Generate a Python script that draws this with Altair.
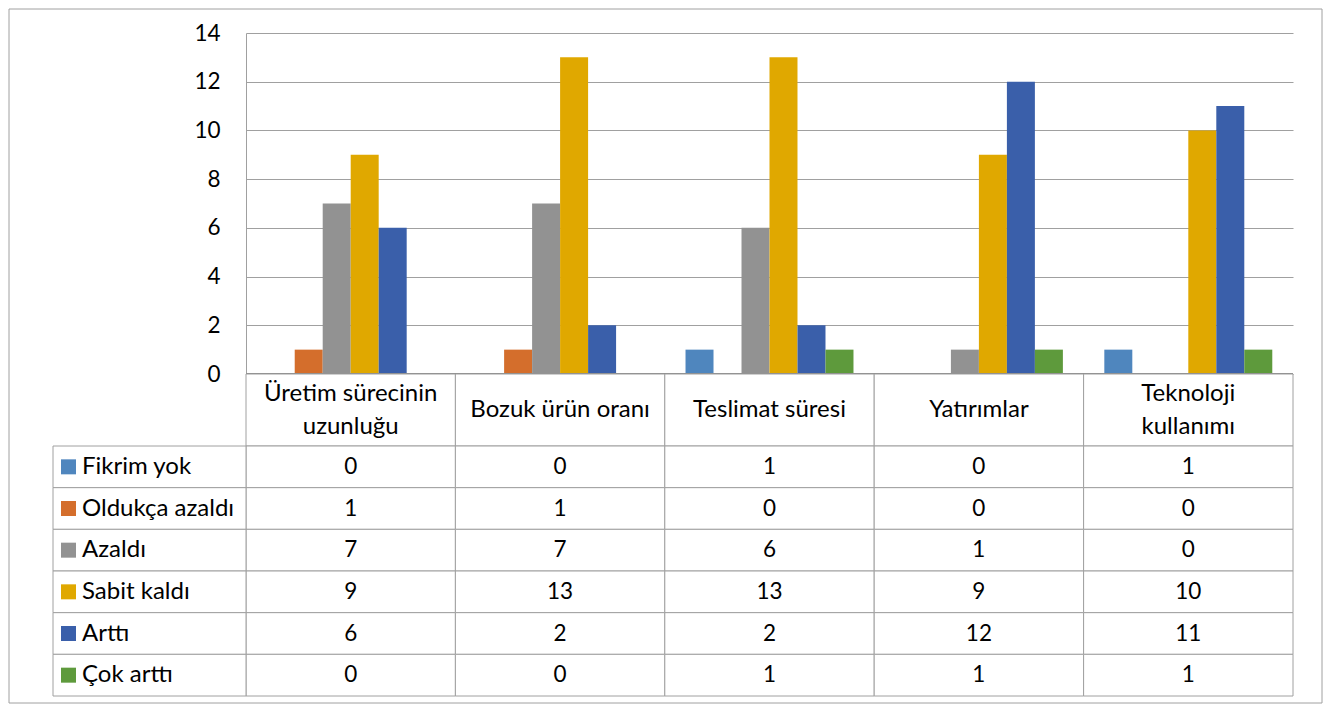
import altair as alt
import pandas as pd

# ---- data ----
categories = ["Üretim sürecinin\nuzunluğu", "Bozuk ürün oranı", "Teslimat süresi", "Yatırımlar", "Teknoloji\nkullanımı"]
series = ["Fikrim yok", "Oldukça azaldı", "Azaldı", "Sabit kaldı", "Arttı", "Çok arttı"]
colors = ["#4F86BE", "#D46E2C", "#929292", "#E0A800", "#3A5FAA", "#5E9A3C"]
fikrim_yok = [0, 0, 1, 0, 1]
oldukca_azaldi = [1, 1, 0, 0, 0]
azaldi = [7, 7, 6, 1, 0]
sabit_kaldi = [9, 13, 13, 9, 10]
artti = [6, 2, 2, 12, 11]
cok_artti = [0, 0, 1, 1, 1]
y_ticks = [0, 2, 4, 6, 8, 10, 12, 14]

values_by_series = [fikrim_yok, oldukca_azaldi, azaldi, sabit_kaldi, artti, cok_artti]
rows = []
for s, vals in zip(series, values_by_series):
    for c, v in zip(categories, vals):
        rows.append({"category": c, "series": s, "value": v})
df = pd.DataFrame(rows)
hdr_df = pd.DataFrame({"category": categories})
lab_df = pd.DataFrame({"series": series})
frame_df = pd.DataFrame({"a": [0]})

# ---- layout ----
FONT = "Lato"
FS_TXT = 24
FS_NUM = 22.5
W = 1047
BAR_H = 341
HDR_H = 72
BODY_H = 250
LABEL_W = 193
GRID = "#a0a0a0"
LH = 33

xscale = alt.Scale(domain=categories, paddingInner=0, paddingOuter=0)
xenc = alt.X("category:N", sort=categories, scale=xscale, axis=None)

bars = alt.Chart(df).mark_bar().encode(
    x=xenc,
    xOffset=alt.XOffset("series:N", sort=series,
                        scale=alt.Scale(domain=series, paddingInner=0, paddingOuter=0.74)),
    y=alt.Y("value:Q",
            scale=alt.Scale(domain=[0, 14], range=[BAR_H, 0], nice=False),
            axis=alt.Axis(values=y_ticks, title=None, ticks=False, labelPadding=26,
                          labelFont=FONT, labelFontSize=FS_NUM, labelColor="black",
                          domainColor=GRID, gridColor=GRID, grid=True)),
    color=alt.Color("series:N", scale=alt.Scale(domain=series, range=colors), legend=None),
)
baseline = alt.Chart(frame_df).mark_rule(color="#868686", strokeWidth=2).encode(y=alt.datum(0))
bar_layer = alt.layer(bars, baseline)

hdr_rect = alt.Chart(hdr_df).mark_rect(fill="white", stroke=GRID, strokeWidth=1).encode(
    x=xenc, y=alt.value(BAR_H), y2=alt.value(BAR_H + HDR_H))
hdr_text1 = alt.Chart(hdr_df).transform_filter(
    "indexof(datum.category, '\\n') < 0"
).mark_text(font=FONT, fontSize=FS_TXT, baseline="middle", color="black").encode(
    x=xenc, y=alt.value(BAR_H + HDR_H / 2), text="category:N")
hdr_text2 = alt.Chart(hdr_df).transform_filter(
    "indexof(datum.category, '\\n') >= 0"
).mark_text(font=FONT, fontSize=FS_TXT, lineBreak="\n", lineHeight=LH, baseline="middle",
            dy=-LH / 2, color="black").encode(
    x=xenc, y=alt.value(BAR_H + HDR_H / 2), text="category:N")
hdr_layer = alt.layer(hdr_rect, hdr_text1, hdr_text2)

yrow = alt.Y("series:N", sort=series,
             scale=alt.Scale(domain=series, range=[BAR_H + HDR_H, BAR_H + HDR_H + BODY_H],
                             paddingInner=0, paddingOuter=0),
             axis=None)
cell_rect = alt.Chart(df).mark_rect(fill="white", stroke=GRID, strokeWidth=1).encode(x=xenc, y=yrow)
cell_text = alt.Chart(df).mark_text(font=FONT, fontSize=FS_NUM, baseline="middle", color="black").encode(
    x=xenc, y=yrow, text="value:Q")
lab_rect = alt.Chart(lab_df).mark_rect(fill="white", stroke=GRID, strokeWidth=1).encode(
    x=alt.value(-LABEL_W), x2=alt.value(0), y=yrow)
lab_sq = alt.Chart(lab_df).mark_square(size=225, opacity=1).encode(
    x=alt.value(-LABEL_W + 15.5), y=yrow,
    color=alt.Color("series:N", scale=alt.Scale(domain=series, range=colors), legend=None))
lab_text = alt.Chart(lab_df).mark_text(font=FONT, fontSize=FS_TXT, align="left", baseline="middle",
                                       color="black").encode(
    x=alt.value(-LABEL_W + 29), y=yrow, text="series:N")
body_layer = alt.layer(cell_rect, cell_text, lab_rect, lab_sq, lab_text)

frame = alt.Chart(frame_df).mark_rect(filled=False, stroke=GRID, strokeWidth=1).encode(
    x=alt.value(-237), x2=alt.value(1076), y=alt.value(-24), y2=alt.value(670))

chart = alt.layer(frame, bar_layer, hdr_layer, body_layer).resolve_scale(
    y="independent"
).properties(width=W, height=BAR_H + HDR_H + BODY_H, padding=0).configure_view(stroke=None)

chart.save("out.html", embed_options={"renderer": "svg", "actions": False})
